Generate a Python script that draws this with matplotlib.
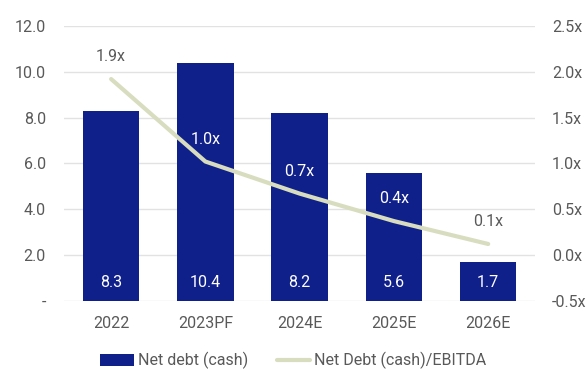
import matplotlib.pyplot as plt
import numpy as np

plt.rcParams['font.family'] = ['Roboto', 'DejaVu Sans']

years = ['2022', '2023PF', '2024E', '2025E', '2026E']
net_debt = [8.3, 10.4, 8.2, 5.6, 1.7]
leverage = [1.92, 1.02, 0.67, 0.37, 0.12]
leverage_labels = ['1.9x', '1.0x', '0.7x', '0.4x', '0.1x']

bar_color = '#0F208B'
line_color = '#D8DDBF'
text_color = '#595959'

fig = plt.figure(figsize=(5.87, 3.70), dpi=100)
ax = fig.add_axes([0.109, 0.187, 0.803, 0.743])
ax2 = ax.twinx()

x = np.arange(len(years))
bars = ax.bar(x, net_debt, width=0.6, color=bar_color, zorder=2, label='Net debt (cash)')
for xi, v in zip(x, net_debt):
    ax.text(xi, 0.8, f'{v:.1f}', ha='center', va='center', color='white', fontsize=11.5, zorder=3)

ax.set_ylim(0, 12)
ax.set_yticks(np.arange(0, 13, 2))
ax.set_yticklabels(['-'] + [f'{v:.1f}' for v in np.arange(2, 13, 2)])
ax.set_xlim(-0.5, 4.5)
ax.set_xticks(x)
ax.set_xticklabels(years)
ax.grid(axis='y', color='#E2E2E2', linewidth=1, zorder=0)
ax.set_axisbelow(True)

ax2.plot(x, leverage, color=line_color, linewidth=3, solid_capstyle='round', zorder=4,
         label='Net Debt (cash)/EBITDA')
for xi, v, lab in zip(x, leverage, leverage_labels):
    inside = net_debt[xi] > (v + 0.5) * 4 + 1
    ax2.annotate(lab, (xi, v), xytext=(0, 16), textcoords='offset points', ha='center',
                 va='center', fontsize=11.5, color='white' if inside else text_color)
ax2.set_ylim(-0.5, 2.5)
ax2.set_yticks(np.arange(-0.5, 2.51, 0.5))
ax2.set_yticklabels([f'{v:.1f}x' for v in np.arange(-0.5, 2.51, 0.5)])

for a in (ax, ax2):
    for s in a.spines.values():
        s.set_visible(False)
    a.tick_params(length=0, labelsize=11.5, labelcolor=text_color)
ax.tick_params(axis='y', pad=13)
ax.tick_params(axis='x', pad=11)
ax2.tick_params(axis='y', pad=12)
ax.set_zorder(ax2.get_zorder() - 1)
ax.patch.set_visible(False)
ax2.patch.set_visible(False)

handles = [bars, ax2.get_lines()[0]]
fig.legend(handles, ['Net debt (cash)', 'Net Debt (cash)/EBITDA'], loc='center',
           bbox_to_anchor=(0.5, 0.025), ncol=2, frameon=False, fontsize=11.5,
           labelcolor=text_color, handlelength=2.1, handletextpad=0.25, columnspacing=1.8)

fig.savefig('out.png', dpi=100)
